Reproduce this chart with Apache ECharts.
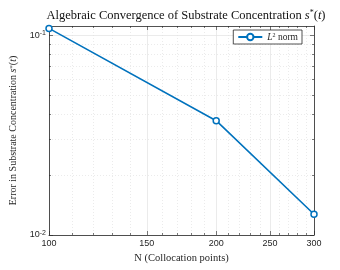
<!DOCTYPE html>
<html><head><meta charset="utf-8">
<script src="https://cdn.jsdelivr.net/npm/echarts@6/dist/echarts.min.js"></script>
<style>html,body{margin:0;padding:0;background:#fff}#c{width:340px;height:270px}</style>
</head><body><div id="c"></div>
<script>
// Data
var N = [100, 200, 300];
var errL2 = [0.108, 0.0373, 0.0127];
var xMajor = [100, 150, 200, 250, 300];
var xMinor = [110,120,130,140,160,170,180,190,210,220,230,240,260,270,280,290];
var yMajor = [0.01, 0.1];
var yMinor = [0.02,0.03,0.04,0.05,0.06,0.07,0.08,0.09];
var xMin = 100, xMax = 300, yMin = 0.01, yMax = 0.111;

var L = Math.log10;
var ink = '#262626';
var serif = 'Liberation Serif';
var sans = 'Liberation Sans';
var supRich = {
  sup: {fontSize: 7, verticalAlign: 'top', padding: [0,0,4,0], fontFamily: sans, color: ink},
  base: {fontSize: 9, fontFamily: sans, color: ink}
};

function xAx(pos, values, major, showLbl) {
  return {
    type: 'value', position: pos, min: L(xMin), max: L(xMax),
    axisLine: {show: major, lineStyle: {color: ink, width: 0.8}},
    axisTick: {show: true, inside: true, length: major ? 4 : 2, customValues: values.map(L),
               lineStyle: {color: ink, width: 0.6}},
    axisLabel: showLbl ? {show: true, customValues: values.map(L), color: ink, fontFamily: sans, fontSize: 9, margin: 4,
               formatter: function(v){ return String(Math.round(Math.pow(10, v))); }} : {show: false},
    splitLine: {show: pos === 'bottom', lineStyle: major ? {color: '#e3e3e3', width: 0.7, type: 'solid'} : {color: '#e2e2e2', width: 0.7, type: [1, 2]}},
    name: showLbl ? 'N (Collocation points)' : '',
    nameLocation: 'middle', nameGap: 18,
    nameTextStyle: {fontFamily: serif, fontSize: 10.5, color: ink}
  };
}
function yAx(pos, values, major, showLbl) {
  return {
    type: 'value', position: pos, min: L(yMin), max: L(yMax),
    axisLine: {show: major, lineStyle: {color: ink, width: 0.8}},
    axisTick: {show: true, inside: true, length: major ? 4 : 2, customValues: values.map(L),
               lineStyle: {color: ink, width: 0.6}},
    axisLabel: showLbl ? {show: true, customValues: values.map(L), margin: 3,
               formatter: function(v){ return '{base|10}{sup|' + Math.round(v) + '}'; }, rich: supRich} : {show: false},
    splitLine: {show: pos === 'left', lineStyle: major ? {color: '#e3e3e3', width: 0.7, type: 'solid'} : {color: '#e2e2e2', width: 0.7, type: [1, 2]}},
    name: showLbl ? '{t|Error in Substrate Concentration }{i|s}{s|*}{t|(}{i|t}{t|)}' : '',
    nameLocation: 'middle', nameGap: 21, nameRotate: 90,
    nameTextStyle: {color: ink, rich: {
      t: {fontFamily: serif, fontSize: 10, color: ink},
      i: {fontFamily: serif, fontSize: 10, fontStyle: 'italic', color: ink},
      s: {fontFamily: serif, fontSize: 7, verticalAlign: 'top', color: ink}
    }}
  };
}

var chart = echarts.init(document.getElementById('c'), null, {renderer: 'canvas'});
chart.setOption({
  animation: false,
  backgroundColor: '#fff',
  title: {
    text: '{t|Algebraic Convergence of Substrate Concentration }{i|s}{s|*}{t|(}{i|t}{t|)}',
    left: 181, textAlign: 'center', top: 4,
    textStyle: {fontWeight: 'normal', rich: {
      t: {fontFamily: serif, fontSize: 12.5, fontWeight: 'normal', color: '#111'},
      i: {fontFamily: serif, fontSize: 12.5, fontWeight: 'normal', fontStyle: 'italic', color: '#111'},
      s: {fontFamily: serif, fontSize: 8, fontWeight: 'normal', verticalAlign: 'top', color: '#111'}
    }}
  },
  legend: {
    right: 38, top: 30, orient: 'horizontal',
    backgroundColor: '#fff', borderColor: ink, borderWidth: 0.8, borderRadius: 0,
    padding: [2, 4, 2, 4], itemWidth: 24, itemHeight: 8, itemGap: 4,
    formatter: function(){ return '{i|L}{s|2}{t| norm}'; },
    textStyle: {rich: {
      t: {fontFamily: serif, fontSize: 9.5, color: ink},
      i: {fontFamily: serif, fontSize: 9.5, fontStyle: 'italic', color: ink},
      s: {fontFamily: serif, fontSize: 6, verticalAlign: 'top', color: ink}
    }}
  },
  grid: {left: 49, right: 26, top: 26, bottom: 35, containLabel: false},
  xAxis: [
    xAx('bottom', xMajor, true, true),
    xAx('top', xMajor, true, false),
    xAx('bottom', xMinor, false, false),
    xAx('top', xMinor, false, false)
  ],
  yAxis: [
    yAx('left', yMajor, true, true),
    yAx('right', yMajor, true, false),
    yAx('left', yMinor, false, false),
    yAx('right', yMinor, false, false)
  ],
  series: [{
    name: 'L2 norm', type: 'line', xAxisIndex: 0, yAxisIndex: 0,
    data: N.map(function(n, i){ return [L(n), L(errL2[i])]; }),
    clip: false,
    symbol: 'circle', symbolSize: 6, showSymbol: true,
    lineStyle: {color: '#0072BD', width: 1.6},
    itemStyle: {color: '#fff', borderColor: '#0072BD', borderWidth: 1.5},
    color: '#0072BD'
  }]
});
</script></body></html>
